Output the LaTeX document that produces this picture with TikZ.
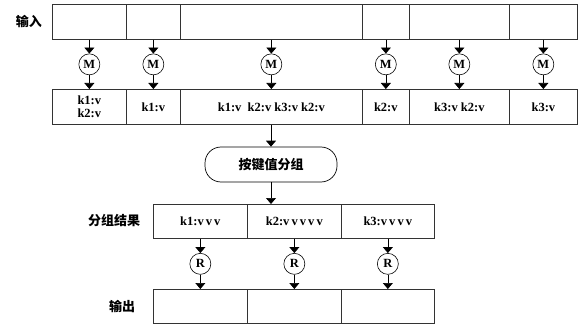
\documentclass[tikz,border=0pt]{standalone}
\usepackage{fontspec}
\setmainfont{Liberation Serif}
\newfontfamily\cjk{Noto Sans CJK SC}
\usetikzlibrary{arrows.meta}
\tikzset{
  cell/.style={draw=black!80, line width=0.7pt, inner sep=0pt, anchor=north west, font=\bfseries\fontsize{12.5}{13}\selectfont, align=center},
  proc/.style={draw=black, circle, line width=0.6pt, minimum size=21pt, inner sep=0pt, font=\bfseries\fontsize{12.5}{13}\selectfont},
  grp/.style={draw=black, rounded corners=16pt, line width=0.7pt, minimum width=132pt, minimum height=35pt, inner sep=0pt, font=\cjk\bfseries\fontsize{13}{14}\selectfont},
  lab/.style={font=\cjk\bfseries\fontsize{13}{14}\selectfont, inner sep=0pt},
  arr/.style={line width=0.7pt, -{Triangle[width=10pt,length=6pt]}}
}
\begin{document}
\begin{tikzpicture}[x=1pt,y=-1pt]
\useasboundingbox (0,0) rectangle (583,326);
% top row
\node[cell, minimum width=74pt, minimum height=35pt] (i1) at (52,4) {};
\node[cell, minimum width=54pt, minimum height=35pt] (i2) at (126,4) {};
\node[cell, minimum width=182pt, minimum height=35pt] (i3) at (180,4) {};
\node[cell, minimum width=47pt, minimum height=35pt] (i4) at (362,4) {};
\node[cell, minimum width=100pt, minimum height=35pt] (i5) at (409,4) {};
\node[cell, minimum width=68pt, minimum height=35pt] (i6) at (509,4) {};
\node[lab] (lin) at (29,21) {输入};
% second row
\node[cell, minimum width=74pt, minimum height=35pt] (o1) at (52,89) {k1:v\\k2:v};
\node[cell, minimum width=54pt, minimum height=35pt] (o2) at (126,89) {k1:v};
\node[cell, minimum width=182pt, minimum height=35pt] (o3) at (180,89) {k1:v\ \ k2:v k3:v k2:v};
\node[cell, minimum width=47pt, minimum height=35pt] (o4) at (362,89) {k2:v};
\node[cell, minimum width=100pt, minimum height=35pt] (o5) at (409,89) {k3:v k2:v};
\node[cell, minimum width=68pt, minimum height=35pt] (o6) at (509,89) {k3:v};
% map circles
\foreach \i in {1,...,6}{
  \path (i\i.south) -- (o\i.north) node[midway, proc] (m\i) {M};
  \draw[arr] (i\i.south) -- (m\i.north);
  \draw[arr] (m\i.south) -- (o\i.north);
}
% group
\node[grp] (g) at (271,164.5) {按键值分组};
\draw[arr] (o3.south -| g.north) -- (g.north);
% group result row
\node[cell, minimum width=94pt, minimum height=34pt] (r1) at (153,204) {k1:v\,v\,v};
\node[cell, minimum width=94pt, minimum height=34pt] (r2) at (247,204) {k2:v\,v\,v\,v\,v};
\node[cell, minimum width=93pt, minimum height=34pt] (r3) at (341,204) {k3:v\,v\,v\,v};
\node[lab] (lres) at (114,221) {分组结果};
\draw[arr] (g.south) -- (g.south |- r1.north);
% output row
\node[cell, minimum width=94pt, minimum height=34pt] (p1) at (153,289) {};
\node[cell, minimum width=94pt, minimum height=34pt] (p2) at (247,289) {};
\node[cell, minimum width=93pt, minimum height=34pt] (p3) at (341,289) {};
\node[lab] (lout) at (122,306) {输出};
\foreach \i in {1,2,3}{
  \path (r\i.south) -- (p\i.north) node[midway, proc] (q\i) {R};
  \draw[arr] (r\i.south) -- (q\i.north);
  \draw[arr] (q\i.south) -- (p\i.north);
}
\end{tikzpicture}
\end{document}
